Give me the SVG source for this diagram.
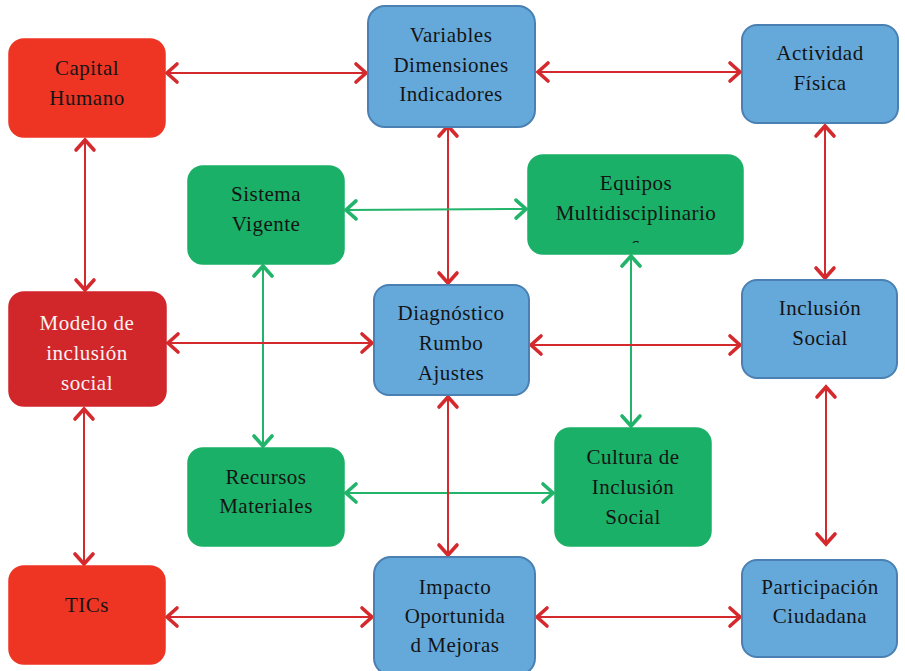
<svg xmlns="http://www.w3.org/2000/svg" width="905" height="671" viewBox="0 0 905 671">
  <defs>
    <style>
      .box { stroke-width: 1.5; }
      .red { fill: #ee3524; stroke: #ee3524; }
      .dred { fill: #d1262a; stroke: #d1262a; }
      .blue { fill: #65a9db; stroke: #4a80b2; stroke-width: 2; }
      .green { fill: #1bb067; stroke: #1bb067; }
      text { font-family: "Liberation Serif", "DejaVu Serif", serif; font-size: 21px; letter-spacing: 0.5px; text-anchor: middle; fill: #141414; }
      text.light { fill: #f7f2f2; }
      .cr { stroke: #d42a2e; stroke-width: 2; fill: none; marker-start: url(#ar); marker-end: url(#ar); }
      .cg { stroke: #22b46a; stroke-width: 2; fill: none; marker-start: url(#ag); marker-end: url(#ag); }
    </style>
    <marker id="ar" viewBox="-14 -12 16 24" refX="0" refY="0" markerWidth="16" markerHeight="24" markerUnits="userSpaceOnUse" orient="auto-start-reverse">
      <path d="M -11 -9 L -1 0 L -11 9" fill="none" stroke="#d42a2e" stroke-width="3.6" stroke-linecap="round" stroke-linejoin="miter"/>
    </marker>
    <marker id="ag" viewBox="-14 -12 16 24" refX="0" refY="0" markerWidth="16" markerHeight="24" markerUnits="userSpaceOnUse" orient="auto-start-reverse">
      <path d="M -11 -9 L -1 0 L -11 9" fill="none" stroke="#22b46a" stroke-width="3.6" stroke-linecap="round" stroke-linejoin="miter"/>
    </marker>
    <clipPath id="clipEq">
      <rect x="528" y="155" width="215" height="88"/>
    </clipPath>
  </defs>

  <!-- connectors -->
  <g id="connectors">
    <line class="cr" x1="166" y1="73" x2="367" y2="73"/>
    <line class="cr" x1="537" y1="72" x2="741" y2="72"/>
    <line class="cr" x1="85" y1="139" x2="85" y2="291"/>
    <line class="cr" x1="448" y1="125" x2="448" y2="284"/>
    <line class="cr" x1="825" y1="125" x2="825" y2="279"/>
    <line class="cg" x1="345" y1="210" x2="527" y2="209"/>
    <line class="cg" x1="263" y1="265" x2="263" y2="447"/>
    <line class="cg" x1="631" y1="255" x2="631" y2="427"/>
    <line class="cr" x1="167" y1="343" x2="373" y2="343"/>
    <line class="cr" x1="530" y1="345" x2="741" y2="345"/>
    <line class="cg" x1="345" y1="493" x2="554" y2="493"/>
    <line class="cr" x1="84" y1="408" x2="84" y2="565"/>
    <line class="cr" x1="448" y1="396" x2="448" y2="556"/>
    <line class="cr" x1="826" y1="386" x2="826" y2="545"/>
    <line class="cr" x1="166" y1="617" x2="373" y2="617"/>
    <line class="cr" x1="536" y1="617" x2="741" y2="617"/>
  </g>

  <g id="capital-humano">
    <rect class="box red" x="9" y="39" width="156" height="98" rx="15"/>
    <text x="87" y="75">Capital</text>
    <text x="87" y="105">Humano</text>
  </g>

  <g id="variables">
    <rect class="box blue" x="368" y="6" width="167" height="121" rx="17"/>
    <text x="451" y="42">Variables</text>
    <text x="451" y="72">Dimensiones</text>
    <text x="451" y="101">Indicadores</text>
  </g>

  <g id="actividad-fisica">
    <rect class="box blue" x="742" y="25" width="156" height="98" rx="15"/>
    <text x="820" y="60">Actividad</text>
    <text x="820" y="90">Física</text>
  </g>

  <g id="sistema-vigente">
    <rect class="box green" x="188" y="166" width="156" height="98" rx="15"/>
    <text x="266" y="201">Sistema</text>
    <text x="266" y="231">Vigente</text>
  </g>

  <g id="equipos">
    <rect class="box green" x="528" y="155" width="215" height="99" rx="15"/>
    <text x="636" y="190">Equipos</text>
    <text x="636" y="220">Multidisciplinario</text>
    <text x="636" y="251" clip-path="url(#clipEq)">s</text>
  </g>

  <g id="modelo">
    <rect class="box dred" x="9" y="292" width="157" height="114" rx="15"/>
    <text class="light" x="87" y="330">Modelo de</text>
    <text class="light" x="87" y="360">inclusión</text>
    <text class="light" x="87" y="390">social</text>
  </g>

  <g id="diagnostico">
    <rect class="box blue" x="374" y="285" width="155" height="110" rx="15"/>
    <text x="451" y="320">Diagnóstico</text>
    <text x="451" y="350">Rumbo</text>
    <text x="451" y="380">Ajustes</text>
  </g>

  <g id="inclusion-social">
    <rect class="box blue" x="742" y="280" width="155" height="98" rx="15"/>
    <text x="820" y="315">Inclusión</text>
    <text x="820" y="345">Social</text>
  </g>

  <g id="recursos">
    <rect class="box green" x="188" y="448" width="156" height="98" rx="15"/>
    <text x="266" y="484">Recursos</text>
    <text x="266" y="513">Materiales</text>
  </g>

  <g id="cultura">
    <rect class="box green" x="555" y="428" width="156" height="118" rx="15"/>
    <text x="633" y="464">Cultura de</text>
    <text x="633" y="494">Inclusión</text>
    <text x="633" y="524">Social</text>
  </g>

  <g id="tics">
    <rect class="box red" x="9" y="566" width="156" height="98" rx="15"/>
    <text x="87" y="612">TICs</text>
  </g>

  <g id="impacto">
    <rect class="box blue" x="374" y="557" width="161" height="118" rx="17"/>
    <text x="455" y="594">Impacto</text>
    <text x="455" y="623">Oportunida</text>
    <text x="455" y="652">d Mejoras</text>
  </g>

  <g id="participacion">
    <rect class="box blue" x="742" y="560" width="155" height="97" rx="15"/>
    <text x="820" y="594">Participación</text>
    <text x="820" y="623">Ciudadana</text>
  </g>
</svg>
